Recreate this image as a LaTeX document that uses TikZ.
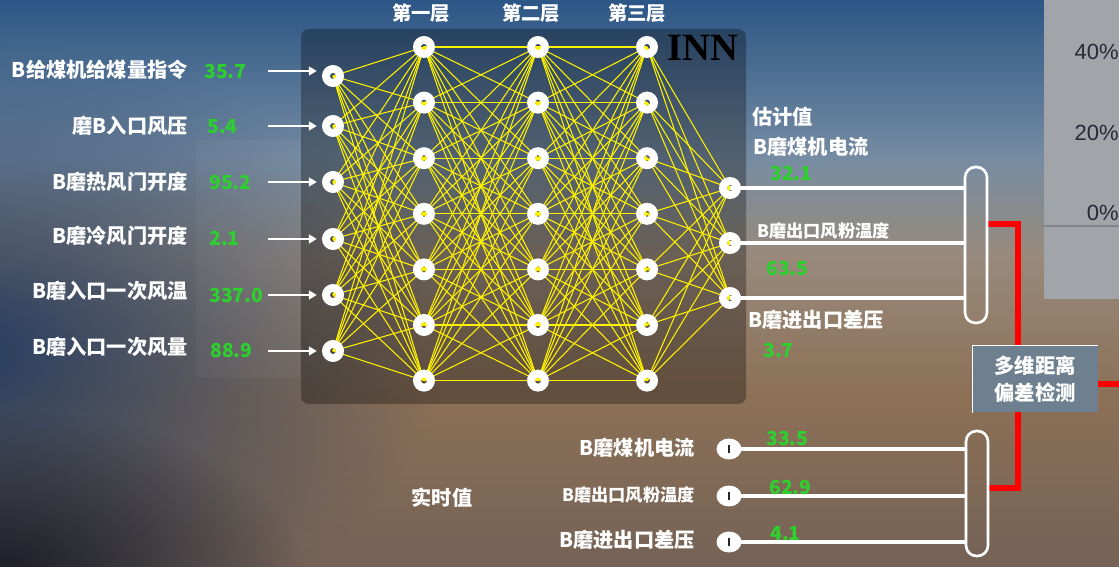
\documentclass[tikz,border=0pt]{standalone}
\usepackage{fontspec}
\setmainfont{Noto Sans CJK SC}
\newfontfamily\innfont{Liberation Serif}
\newfontfamily\pctfont{Liberation Sans}
\usepackage{xcolor}
\usepackage{tikz}
\usetikzlibrary{arrows.meta, shapes.geometric, fadings}

\definecolor{numgreen}{RGB}{45,208,45}
\definecolor{detfill}{RGB}{110,128,143}
\definecolor{panelgray}{RGB}{161,164,168}
\definecolor{gridgray}{RGB}{130,134,140}
\definecolor{pcttext}{RGB}{40,42,55}
\definecolor{bgtop}{RGB}{44,86,134}
\definecolor{bglight}{RGB}{118,140,162}
\definecolor{bgmid}{RGB}{152,138,124}
\definecolor{bgbrown}{RGB}{140,112,86}
\definecolor{bgbot}{RGB}{116,98,86}
\definecolor{leftshade}{RGB}{36,60,96}
\definecolor{cornershade}{RGB}{28,30,40}

% the middle band 25bp..75bp is stretched over the path
\pgfdeclareverticalshading{skybg}{100bp}{color(0bp)=(bgbot); color(25bp)=(bgbot); color(40bp)=(bgbrown); color(52.5bp)=(bgmid); color(61bp)=(bglight); color(75bp)=(bgtop); color(100bp)=(bgtop)}
\tikzfading[name=softblob, inner color=transparent!0, outer color=transparent!100]

\pgfdeclarelayer{bg}
\pgfdeclarelayer{edges}
\pgfsetlayers{bg,edges,main}

\tikzset{
  neuron/.style={circle, draw=white, line width=4.5pt, minimum size=0.28cm, inner sep=0pt},
  realnode/.style={ellipse, fill=white, minimum width=0.5cm, minimum height=0.42cm, inner sep=0pt},
  lbl/.style={text=white, font=\bfseries\fontsize{11.5}{13.5}\selectfont, inner sep=0pt},
  lblsmall/.style={text=white, font=\bfseries\fontsize{9.8}{12}\selectfont, inner sep=0pt},
  num/.style={text=numgreen, font=\bfseries\fontsize{11}{13}\selectfont, inner sep=0pt, anchor=west},
  synapse/.style={yellow, line width=0.6pt},
  wire/.style={white, line width=2pt},
  inarrow/.style={white, line width=1.2pt, -{Triangle[length=4.5pt,width=5pt]}, shorten >=3pt},
  pill/.style={draw=white, line width=1.5pt, rounded corners=0.21cm, minimum width=0.44cm, inner sep=0pt},
  pct/.style={text=pcttext, font=\pctfont\fontsize{12.5}{14}\selectfont, anchor=east, inner sep=0pt},
  redline/.style={red, line width=3pt},
}

\begin{document}
\begin{tikzpicture}[x=0.02cm, y=-0.02cm]
\useasboundingbox (0,0) rectangle (1119,567);

% backdrop
\begin{pgfonlayer}{bg}
\shade[shading=skybg] (0,0) rectangle (1119,567);
\fill[leftshade, path fading=softblob] (-520,40) rectangle (440,660);
\fill[cornershade, path fading=softblob] (-300,410) rectangle (300,730);
\fill[white, opacity=0.035] (196,140) rectangle (300,378);
\fill[black, opacity=0.3, rounded corners=0.16cm] (301,29) rectangle (746,404);
\fill[panelgray] (1044,0) rectangle (1119,299);
\draw[gridgray, line width=1.2pt] (1044,226) -- (1119,226);
\end{pgfonlayer}

\node[pct] (p40) at (1119,52) {40\%};
\node[pct] (p20) at (1119,133) {20\%};
\node[pct] (p0) at (1119,213) {0\%};

% layer titles
\node[lbl, font=\bfseries\fontsize{11}{13}\selectfont] (t1) at (421,13) {第一层};
\node[lbl, font=\bfseries\fontsize{11}{13}\selectfont] (t2) at (531,13) {第二层};
\node[lbl, font=\bfseries\fontsize{11}{13}\selectfont] (t3) at (637,13) {第三层};
\node[font=\innfont\bfseries\fontsize{22}{24}\selectfont, inner sep=0pt] (inn) at (703,48) {INN};

% neurons
\foreach \i/\y in {1/76, 2/126, 3/182, 4/239, 5/295, 6/351}
  \node[neuron] (in\i) at (333,\y) {};
\foreach \l/\x in {1/424, 2/538, 3/647}
  \foreach \i in {1,...,7}
    \node[neuron] (h\l-\i) at (\x, {47+55.6*(\i-1)}) {};
\foreach \j/\y in {1/188, 2/243, 3/298}
  \node[neuron] (out\j) at (730,\y) {};

\begin{pgfonlayer}{edges}
\foreach \i in {1,...,6}
  \foreach \j in {1,...,7}
    \draw[synapse] (in\i.center) -- (h1-\j.center);
\foreach \i in {1,...,7}
  \foreach \j in {1,...,7} {
    \draw[synapse] (h1-\i.center) -- (h2-\j.center);
    \draw[synapse] (h2-\i.center) -- (h3-\j.center);
  }
\foreach \i in {1,...,7}
  \foreach \j in {1,...,3}
    \draw[synapse] (h3-\i.center) -- (out\j.center);
\end{pgfonlayer}

% inputs
\node[lbl, anchor=east] (l1) at (188,70) {B给煤机给煤量指令};
\node[lbl, anchor=east] (l2) at (188,126) {磨B入口风压};
\node[lbl, anchor=east] (l3) at (188,182) {B磨热风门开度};
\node[lbl, anchor=east] (l4) at (188,236) {B磨冷风门开度};
\node[lbl, anchor=east] (l5) at (188,291) {B磨入口一次风温};
\node[lbl, anchor=east] (l6) at (188,347) {B磨入口一次风量};
\node[num] (v1) at (204,71) {35.7};
\node[num] (v2) at (207,127) {5.4};
\node[num] (v3) at (209,182) {95.2};
\node[num] (v4) at (209,238) {2.1};
\node[num] (v5) at (209,295) {337.0};
\node[num] (v6) at (210,350) {88.9};
\foreach \i/\y in {1/71, 2/126, 3/182, 4/239, 5/295, 6/351} {
  \coordinate (a\i) at (268,\y);
  \draw[inarrow] (a\i) -- (a\i -| in\i.west);
}

% estimates
\node[lbl, anchor=west] (est0) at (752,117) {估计值};
\node[lbl, anchor=west] (e1) at (753,147) {B磨煤机电流};
\node[num] (ev1) at (770,173) {32.1};
\node[lblsmall, anchor=west] (e2) at (757,231) {B磨出口风粉温度};
\node[num] (ev2) at (766,268) {63.5};
\node[lbl, anchor=west] (e3) at (748,320) {B磨进出口差压};
\node[num] (ev3) at (763,350) {3.7};

\node[pill, minimum height=3.12cm] (est) at (976,245) {};
\begin{pgfonlayer}{edges}
\foreach \j in {1,2,3}
  \draw[wire] (out\j.center) -- (out\j -| est.west);
\end{pgfonlayer}

% real values
\node[lbl] (rt) at (442,498) {实时值};
\node[lbl, anchor=east] (rl1) at (695,448) {B磨煤机电流};
\node[lblsmall, anchor=east] (rl2) at (695,495) {B磨出口风粉温度};
\node[lbl, anchor=east] (rl3) at (695,540) {B磨进出口差压};
\foreach \j/\y in {1/449, 2/496, 3/542}
  \node[realnode] (r\j) at (729,\y) {\color{black!85}\rule[-2.4pt]{1.1pt}{4.8pt}};
\node[num] (rv1) at (766,438) {33.5};
\node[num] (rv2) at (769,487) {62.9};
\node[num] (rv3) at (770,534) {4.1};

\node[pill, minimum height=2.5cm] (real) at (977,493.5) {};
\begin{pgfonlayer}{edges}
\foreach \j in {1,2,3}
  \draw[wire] (r\j.center) -- (r\j -| real.west);
\end{pgfonlayer}

% detection
\node[fill=detfill, text=white, align=center, minimum width=2.5cm, minimum height=1.34cm,
      font=\bfseries\fontsize{11.6}{15.3}\selectfont] (det) at (1035,379) {多维距离\\偏差检测};
\draw[white, line width=0.6pt] (det.south west) -- (det.north west) -- (det.north east);

\coordinate (j1) at (1018,224);
\coordinate (j2) at (1018,488);
\coordinate (j3) at (1119,384);
\begin{pgfonlayer}{edges}
\draw[redline] (j1 -| est.east) -- (j1) -- (j2) -- (j2 -| real.east);
\draw[redline] (j3 -| det.east) -- (j3);
\end{pgfonlayer}

\end{tikzpicture}
\end{document}
